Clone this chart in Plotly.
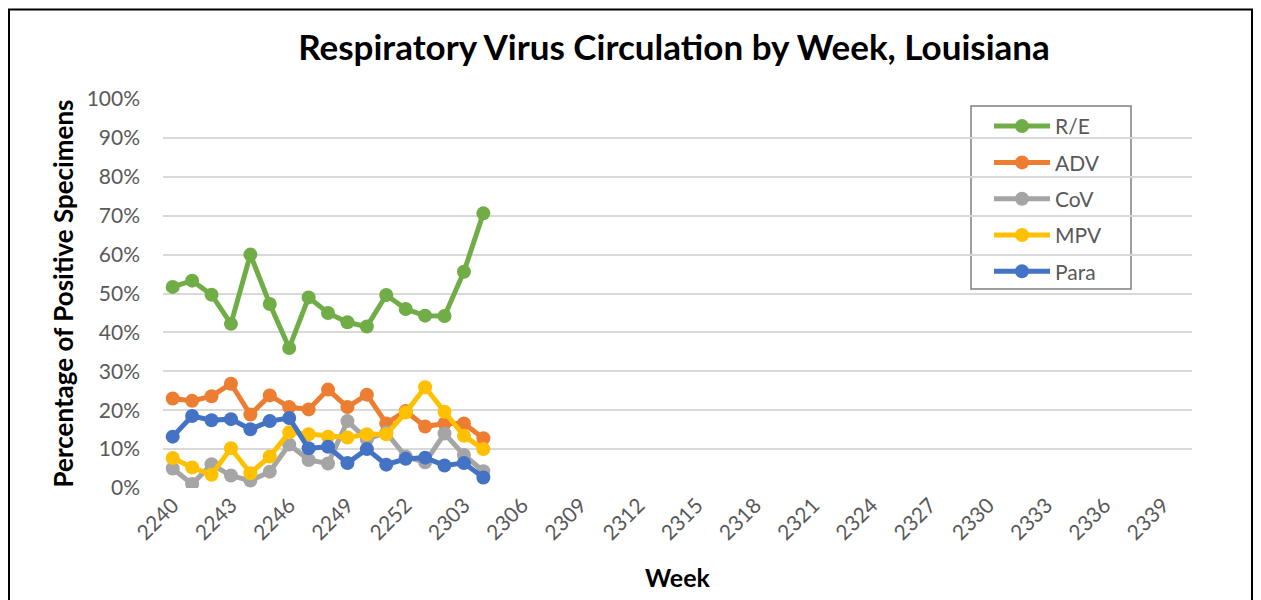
import plotly.graph_objects as go

weeks = [str(2240 + i) for i in range(13)] + [str(2301 + i) for i in range(40)]
tick_labels = weeks[::3]

re_vals = [51.7, 53.3, 49.7, 42.2, 60.0, 47.3, 36.0, 49.0, 45.0, 42.6, 41.5, 49.6, 46.0, 44.3, 44.2, 55.6, 70.6]
adv_vals = [23.0, 22.4, 23.6, 26.8, 18.9, 23.8, 20.8, 20.2, 25.3, 20.8, 24.0, 16.6, 19.8, 15.8, 16.6, 16.6, 12.8]
cov_vals = [5.0, 1.0, 6.1, 3.2, 1.9, 4.2, 11.2, 7.2, 6.3, 17.2, 12.5, 14.3, 8.1, 6.6, 14.0, 8.5, 4.3]
mpv_vals = [7.7, 5.3, 3.4, 10.2, 3.8, 8.1, 14.3, 13.8, 13.2, 13.0, 13.8, 13.8, 19.4, 25.9, 19.6, 13.4, 10.0]
para_vals = [13.2, 18.5, 17.4, 17.7, 15.1, 17.2, 18.0, 10.2, 10.6, 6.4, 10.0, 6.0, 7.5, 7.8, 5.8, 6.4, 2.7]

series = [
    ("R/E", re_vals, "#70AD47"),
    ("ADV", adv_vals, "#ED7D31"),
    ("CoV", cov_vals, "#A5A5A5"),
    ("MPV", mpv_vals, "#FFC000"),
    ("Para", para_vals, "#4472C4"),
]

FONT = "Lato"
fig = go.Figure()
for name, vals, color in series:
    fig.add_trace(go.Scatter(
        x=weeks[:len(vals)], y=[v / 100 for v in vals], name=name,
        mode="lines+markers", legendgroup=name,
        line=dict(color=color, width=5),
        marker=dict(color=color, size=14),
    ))

# page is offset by the 8px body margin
OFF = 8
W, H = 1253, 592
PL, PR, PT, PB = 163, 1192, 99, 490  # plot area in page px
L, R, T, B = PL - OFF, OFF + W - PR, PT - OFF, OFF + H - PB
pw, ph = W - L - R, H - T - B

def px(x):
    return (x - PL) / pw

def py(y):
    return (PB - y) / ph

fig.update_layout(
    width=W, height=H,
    margin=dict(l=L, r=R, t=T, b=B),
    paper_bgcolor="white", plot_bgcolor="white",
    title=dict(text="<b>Respiratory Virus Circulation by Week, Louisiana</b>",
               x=(674 - OFF) / W, xanchor="center", y=1 - (48 - OFF) / H, yanchor="middle",
               font=dict(family=FONT, size=35, color="black")),
    xaxis=dict(type="category", categoryorder="array", categoryarray=weeks,
               range=[-0.5, len(weeks) - 0.5],
               tickmode="array", tickvals=tick_labels, ticktext=tick_labels,
               tickangle=-45, showgrid=False, showline=False, zeroline=False,
               tickfont=dict(family=FONT, size=21, color="#595959"),
               title=dict(text="<b>Week</b>", font=dict(family=FONT, size=25, color="black"), standoff=26)),
    yaxis=dict(range=[0, 1], tickformat=".0%", dtick=0.1,
               showgrid=True, gridcolor="#D9D9D9", gridwidth=1.5, zeroline=False,
               showline=False, ticklabelstandoff=22,
               tickfont=dict(family=FONT, size=21, color="#595959"),
               title=dict(text="<b>Percentage of Positive Specimens</b>",
                          font=dict(family=FONT, size=26, color="black"), standoff=5)),
    legend=dict(x=px(989), y=py(106), xanchor="left", yanchor="top",
                borderwidth=0, bgcolor="rgba(0,0,0,0)",
                font=dict(family=FONT, size=21, color="#595959"),
                itemwidth=56, tracegroupgap=6),
    showlegend=True,
)

# legend frame
fig.add_shape(type="rect", xref="paper", yref="paper",
              x0=px(971), x1=px(1131), y0=py(290), y1=py(106),
              line=dict(color="#7F7F7F", width=1.5), fillcolor="white", layer="below")

# outer chart border
fig.add_shape(type="rect", xref="paper", yref="paper",
              x0=px(9), x1=px(1252), y0=py(700), y1=py(9),
              line=dict(color="black", width=2), fillcolor="rgba(0,0,0,0)", layer="above")

fig.write_html("out.html")
